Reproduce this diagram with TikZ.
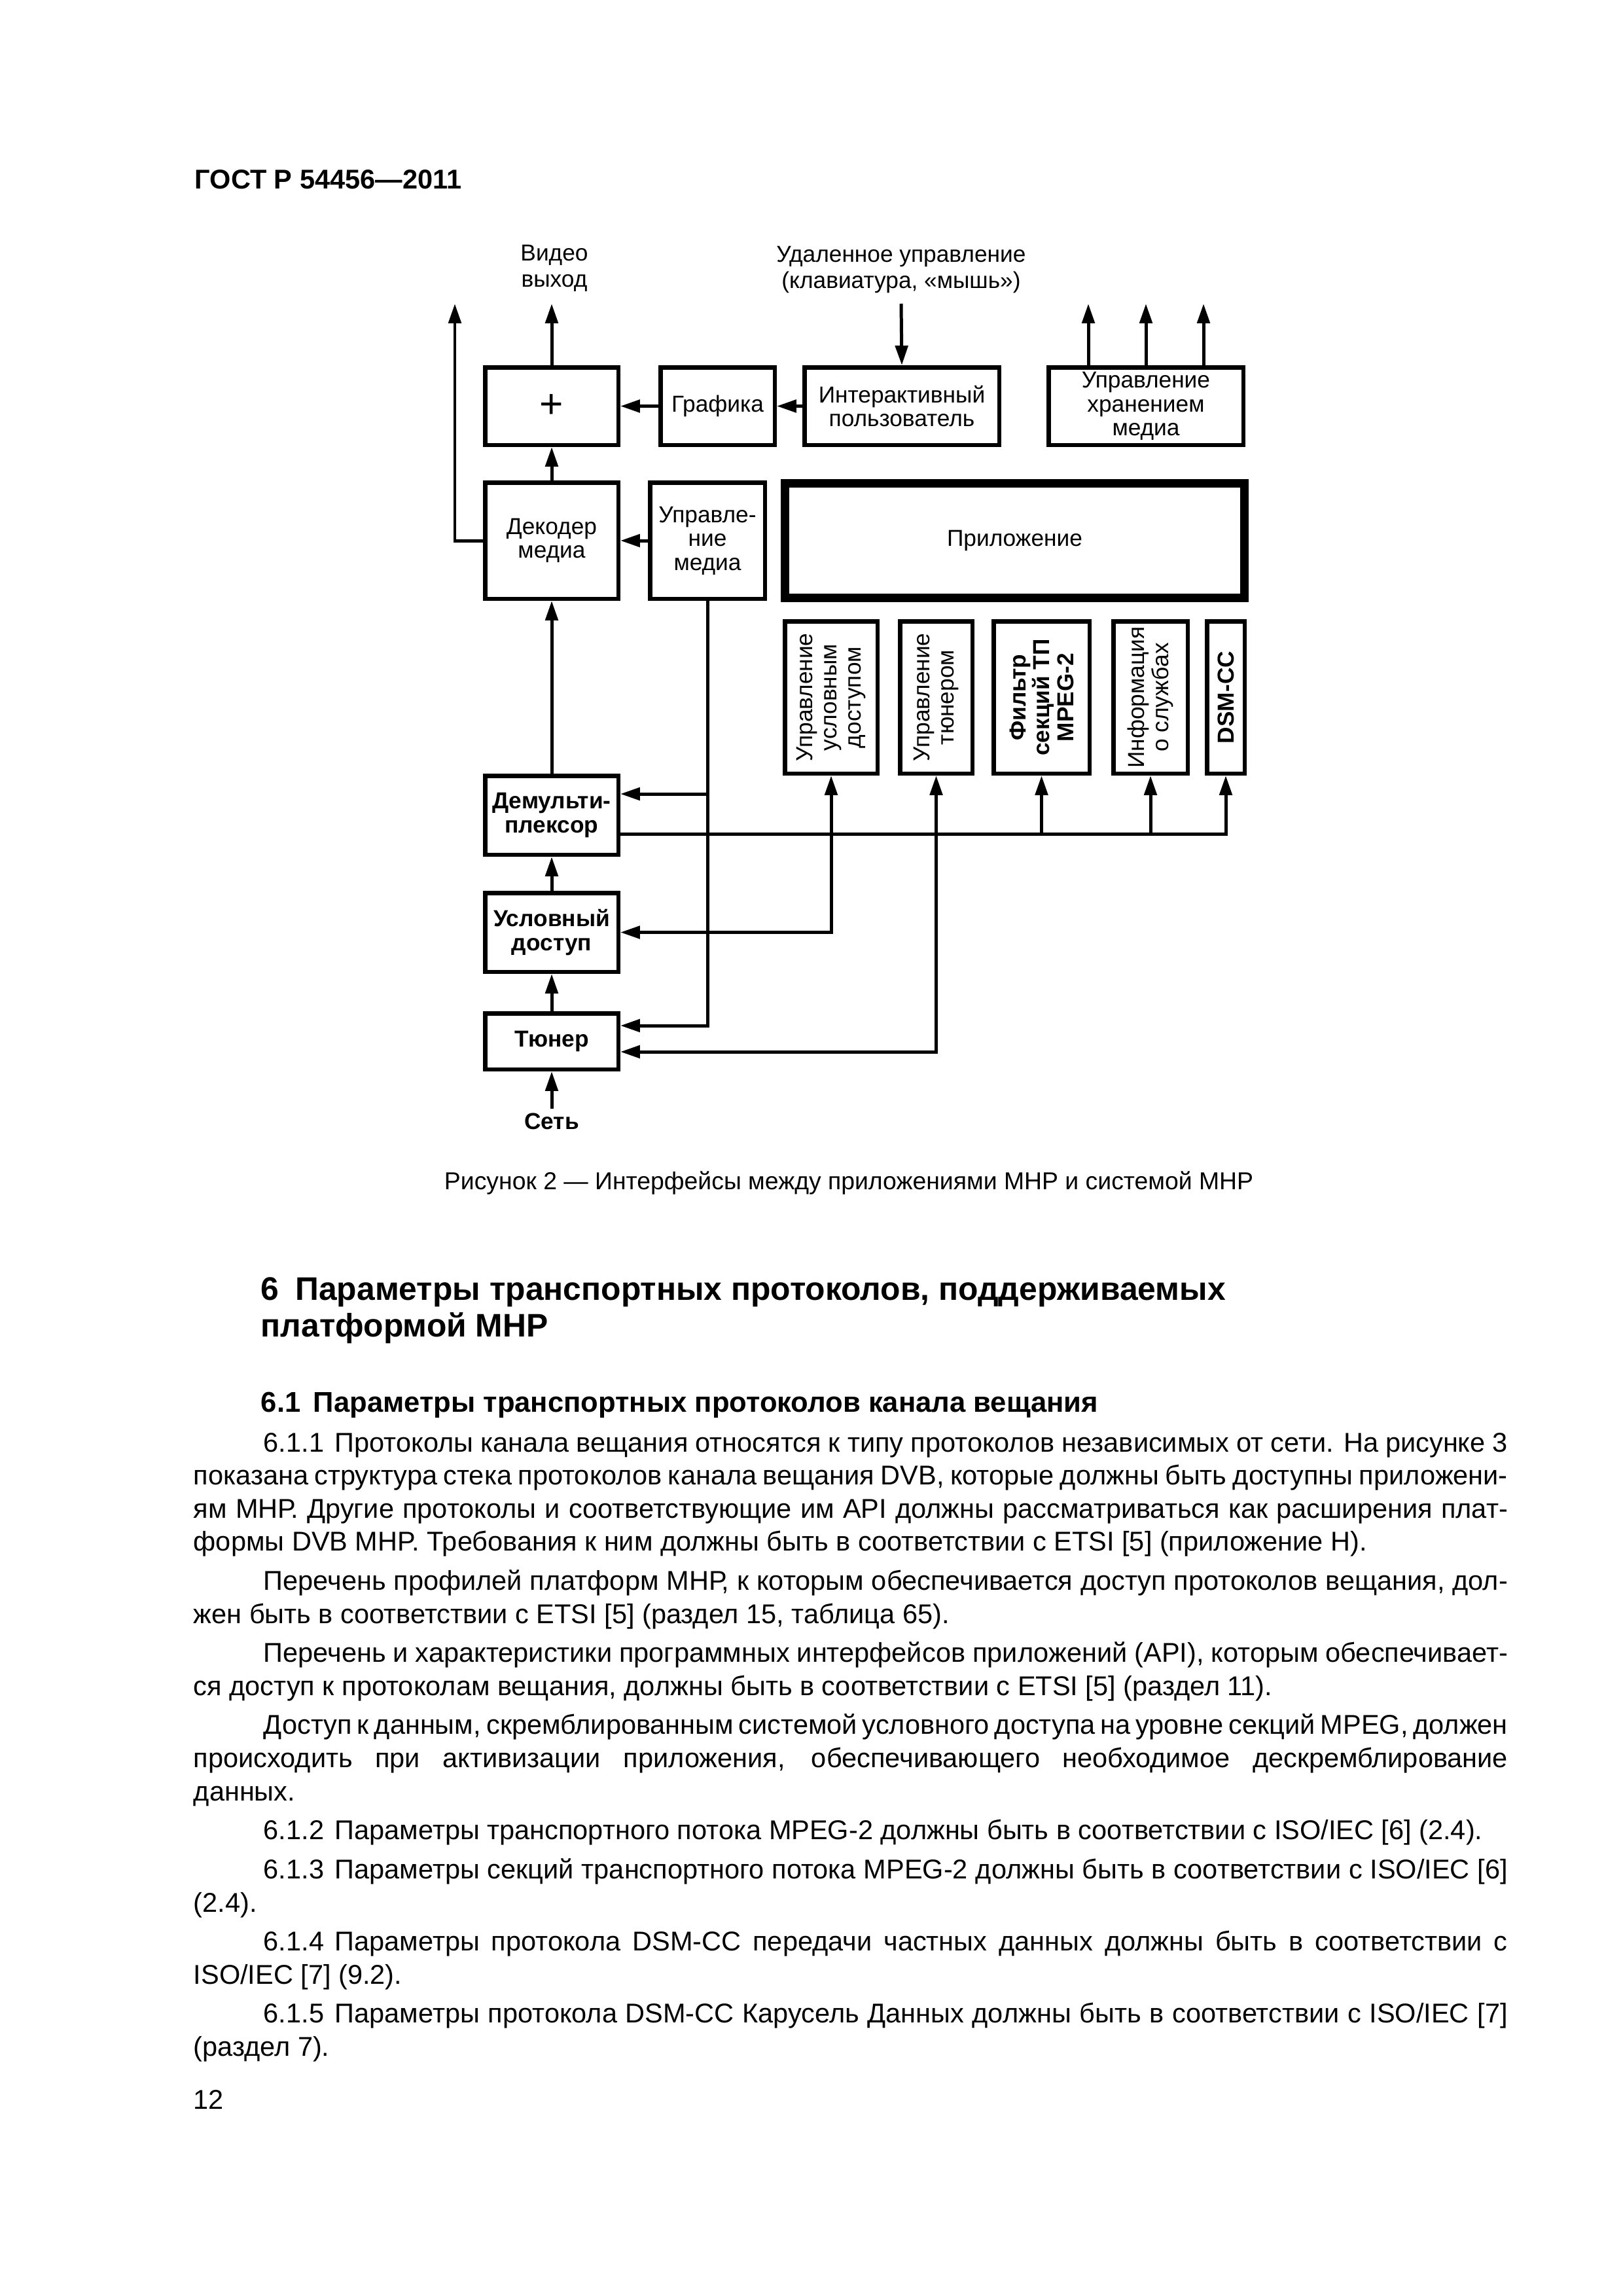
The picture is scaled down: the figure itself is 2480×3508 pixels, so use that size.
\documentclass[tikz,border=0pt]{standalone}
\usepackage{fontspec}
\setmainfont{Liberation Sans}
\usepackage{graphicx}
\usetikzlibrary{arrows.meta}
\newdimen\px \px=0.0846774mm
\newdimen\tw \tw=2008\px
\newdimen\ind \ind=107\px
\newcommand\dfont{\fontsize{8.5pt}{8.8pt}\selectfont}
\newcommand\lfont{\fontsize{8.5pt}{9.6pt}\selectfont}
\newcommand\bodyJ[1]{\hbox to \tw{#1}}
\newcommand\bodyI[1]{\hbox to \tw{\hskip\ind #1}}
\newcommand\bodyL[1]{\hbox{#1}}
\newcommand\bodyIL[1]{\hbox{\hskip\ind #1}}
\newcommand\pskip{\vskip 2.15pt}
\newcommand\vtext[1]{\rotatebox{90}{\parbox{225\px}{\centering\dfont #1}}}
\tikzset{
  box/.style={draw, line width=1.57pt, inner sep=0pt, align=center, font=\dfont},
  conn/.style={line width=1.2pt},
  arr/.style={conn, -{Triangle[length=7.2pt, width=4.6pt]}},
  darr/.style={conn, {Triangle[length=7.2pt, width=4.6pt]}-{Triangle[length=7.2pt, width=4.6pt]}},
  txt/.style={inner sep=0pt},
}
\begin{document}
\begin{tikzpicture}[x=0.0846774mm, y=-0.0846774mm]
\useasboundingbox (0,0) rectangle (2480,3508);
\fill[white] (0,0) rectangle (2480,3508);

% header
\node[txt, anchor=base west, font=\fontsize{10pt}{12pt}\selectfont\bfseries] (title) at (297,288) {ГОСТ Р 54456—2011};

% labels
\node[txt, font=\lfont, align=center] (video) at (847,410) {Видео\\выход};
\node[txt, font=\lfont, align=center] (remote) at (1377,412) {Удаленное управление\\(клавиатура, «мышь»)};
\node[txt, font=\lfont\bfseries] (setlbl) at (843,1713) {Сеть};

% boxes
\node[box, minimum width=203.5\px, minimum height=118.5\px] (plus) at (843,620.5) {\fontsize{15pt}{15pt}\selectfont +};
\node[box, minimum width=174.5\px, minimum height=118.5\px] (graf) at (1096.5,620.5) {Графика};
\node[box, minimum width=297.5\px, minimum height=118.5\px] (inter) at (1378,620.5) {Интерактивный\\пользователь};
\node[box, minimum width=297.5\px, minimum height=118.5\px] (store) at (1751,620.5) {Управление\\хранением\\медиа};
\node[box, minimum width=203.5\px, minimum height=177.5\px] (dec) at (843,826) {Декодер\\медиа};
\node[box, minimum width=175.5\px, minimum height=177.5\px] (mctl) at (1081,826) {Управле-\\ние\\медиа};
\node[box, line width=3.13pt, minimum width=702\px, minimum height=175\px] (app) at (1550.5,826) {Приложение};
\node[box, minimum width=141.5\px, minimum height=232.5\px] (v1) at (1270,1065.5) {\vtext{Управление\\условным\\доступом}};
\node[box, minimum width=110.5\px, minimum height=232.5\px] (v2) at (1430.5,1065.5) {\vtext{Управление\\тюнером}};
\node[box, minimum width=146.5\px, minimum height=232.5\px] (v3) at (1591.5,1065.5) {\vtext{\bfseries Фильтр\\секций ТП\\MPEG-2}};
\node[box, minimum width=113.5\px, minimum height=232.5\px] (v4) at (1758,1065.5) {\vtext{Информация\\о службах}};
\node[box, minimum width=57.5\px, minimum height=232.5\px] (v5) at (1873,1065.5) {\vtext{\bfseries DSM-CC}};
\node[box, font=\dfont\bfseries, minimum width=203.5\px, minimum height=120.5\px] (demux) at (843,1245.5) {Демульти-\\плексор};
\node[box, font=\dfont\bfseries, minimum width=203.5\px, minimum height=120.5\px] (cond) at (843,1424.5) {Условный\\доступ};
\node[box, font=\dfont\bfseries, minimum width=203.5\px, minimum height=85.5\px] (tuner) at (843,1591) {Тюнер};

% free ends
\coordinate (vo) at (843,464);
\coordinate (lo) at (695,464);
\coordinate (ro) at (1377,464);
\coordinate (s1) at (1663,464);
\coordinate (s2) at (1751,464);
\coordinate (s3) at (1839,464);
\coordinate (net) at (843,1694);
\coordinate (mb1) at (1081,1213);
\coordinate (mb2) at (1081,1567);
\coordinate (db) at (1873,1274);
\coordinate (tb) at (1431,1607);

% connectors
\draw[arr] (plus.north) -- (vo);
\draw[arr] (dec.west) -| (lo);
\draw[arr] (graf.west) -- (plus.east);
\draw[arr] (inter.west) -- (graf.east);
\draw[arr] (ro) -- (inter.north);
\draw[arr] (store.north -| s1) -- (s1);
\draw[arr] (store.north -| s2) -- (s2);
\draw[arr] (store.north -| s3) -- (s3);
\draw[arr] (dec.north) -- (plus.south);
\draw[arr] (mctl.west) -- (dec.east);
\draw[arr] (demux.north) -- (dec.south);
\draw[arr] (cond.north) -- (demux.south);
\draw[arr] (tuner.north) -- (cond.south);
\draw[arr] (net) -- (tuner.south);
\draw[arr] (mctl.south) |- (tuner.east |- mb2);
\draw[arr] (mb1) -- (demux.east |- mb1);
\draw[arr] (db -| demux.east) -| (v5.south);
\draw[arr] (db -| v3.south) -- (v3.south);
\draw[arr] (db -| v4.south) -- (v4.south);
\draw[darr] (cond.east) -| (v1.south);
\draw[darr] (tb -| tuner.east) -| (v2.south);

% caption
\node[txt, anchor=base, font=\fontsize{9pt}{11pt}\selectfont] (cap) at (1297,1817) {Рисунок 2 — Интерфейсы между приложениями МНР и системой МНР};

% section headings
\node[txt, anchor=base west, font=\fontsize{12pt}{13.5pt}\selectfont\bfseries] (sec1) at (398,1986) {6\hspace{0.5em}Параметры транспортных протоколов, поддерживаемых};
\node[txt, anchor=base west, font=\fontsize{12pt}{13.5pt}\selectfont\bfseries] (sec2) at (398,2042) {платформой МНР};
\node[txt, anchor=base west, font=\fontsize{10.5pt}{12pt}\selectfont\bfseries] (sub) at (398,2157) {6.1\hspace{0.45em}Параметры транспортных протоколов канала вещания};

% body
\node[txt, anchor=base west, font=\fontsize{10pt}{12.2pt}\selectfont] (body) at (295,2218) {\vtop{\hsize=\tw \baselineskip=12.2pt
\bodyI{6.1.1\hspace{0.4em}Протоколы канала вещания относятся к типу протоколов независимых от сети. На рисунке 3}
\bodyJ{показана структура стека протоколов канала вещания DVB, которые должны быть доступны приложени-}
\bodyJ{ям МНР. Другие протоколы и соответствующие им API должны рассматриваться как расширения плат-}
\bodyL{формы DVB MHP. Требования к ним должны быть в соответствии с ETSI [5] (приложение Н).}
\pskip
\bodyI{Перечень профилей платформ МНР, к которым обеспечивается доступ протоколов вещания, дол-}
\bodyL{жен быть в соответствии с ETSI [5] (раздел 15, таблица 65).}
\pskip
\bodyI{Перечень и характеристики программных интерфейсов приложений (API), которым обеспечивает-}
\bodyL{ся доступ к протоколам вещания, должны быть в соответствии с ETSI [5] (раздел 11).}
\pskip
\bodyI{Доступ к данным, скремблированным системой условного доступа на уровне секций MPEG, должен}
\bodyJ{происходить при активизации приложения, обеспечивающего необходимое дескремблирование}
\bodyL{данных.}
\pskip
\bodyIL{6.1.2\hspace{0.4em}Параметры транспортного потока MPEG-2 должны быть в соответствии с ISO/IEC [6] (2.4).}
\pskip
\bodyI{6.1.3\hspace{0.4em}Параметры секций транспортного потока MPEG-2 должны быть в соответствии с ISO/IEC [6]}
\bodyL{(2.4).}
\pskip
\bodyI{6.1.4\hspace{0.4em}Параметры протокола DSM-CC передачи частных данных должны быть в соответствии с}
\bodyL{ISO/IEC [7] (9.2).}
\pskip
\bodyI{6.1.5\hspace{0.4em}Параметры протокола DSM-CC Карусель Данных должны быть в соответствии с ISO/IEC [7]}
\bodyL{(раздел 7).}
}};

\node[txt, anchor=base west, font=\fontsize{10pt}{12pt}\selectfont] (pnum) at (295,3222) {12};
\end{tikzpicture}
\end{document}
